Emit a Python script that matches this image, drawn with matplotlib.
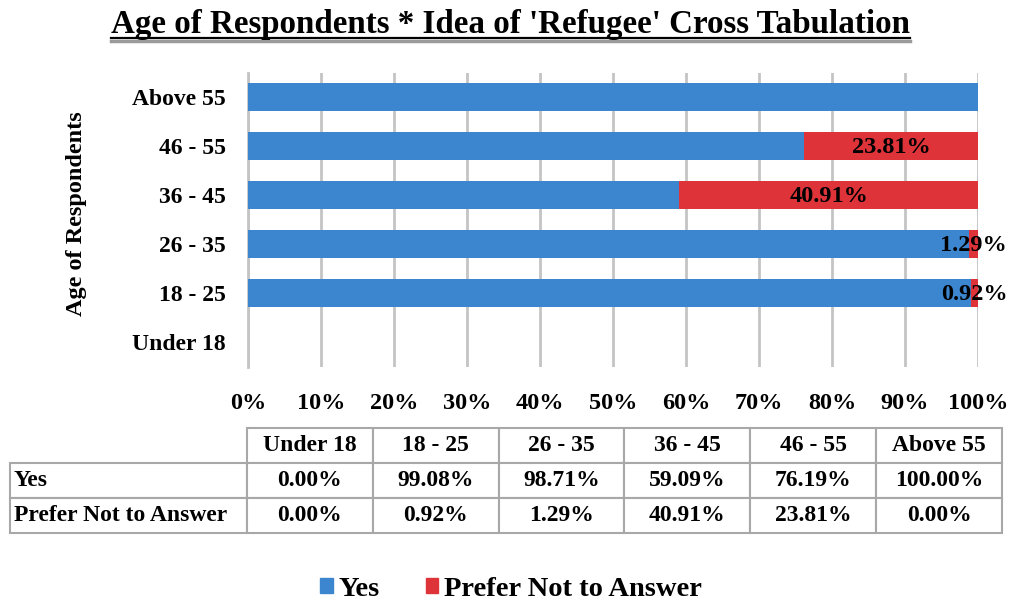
import matplotlib
matplotlib.use('Agg')
import matplotlib.pyplot as plt
import numpy as np
from matplotlib.lines import Line2D
from matplotlib.patches import Patch

ages = ['Under 18', '18 - 25', '26 - 35', '36 - 45', '46 - 55', 'Above 55']
yes = [0.00, 99.08, 98.71, 59.09, 76.19, 100.00]
prefer_not = [0.00, 0.92, 1.29, 40.91, 23.81, 0.00]
series_names = ['Yes', 'Prefer Not to Answer']
xticks = np.arange(0, 101, 10)

blue = '#3b86cf'
red = '#de3439'
grid_grey = '#c4c4c4'

plt.rcParams['font.family'] = 'Liberation Serif'
plt.rcParams['font.weight'] = 'bold'

fig = plt.figure(figsize=(10.12, 6.02), dpi=100)
W, H = 1012.0, 602.0

ax = fig.add_axes([248 / W, 1 - 366.5 / H, 730 / W, 294 / H])
y = np.arange(len(ages))
ax.barh(y, yes, height=0.58, color=blue, zorder=3)
ax.barh(y, prefer_not, left=yes, height=0.58, color=red, zorder=3)

# label the red segments with their share
for i in range(len(ages)):
    if prefer_not[i] > 0:
        cx = yes[i] + prefer_not[i] / 2
        ax.text(cx, y[i] - 0.04, '%.2f%%' % prefer_not[i], ha='center', va='center',
                fontsize=17.5, fontweight='bold', zorder=4)

ax.set_xlim(0, 100)
ax.set_ylim(-0.5, len(ages) - 0.5)
ax.set_yticks(y)
ax.set_yticklabels(ages, fontsize=17, fontweight='bold')
ax.set_xticks(xticks)
ax.set_xticklabels(['%d%%' % v for v in xticks], fontsize=17.5, fontweight='bold')
ax.tick_params(length=0, axis='both')
ax.tick_params(axis='y', pad=16)
ax.tick_params(axis='x', pad=19)
ax.xaxis.grid(True, color=grid_grey, linewidth=2, zorder=0)
for side in ['top', 'right', 'bottom']:
    ax.spines[side].set_visible(False)
ax.spines['left'].set_color(grid_grey)
ax.spines['left'].set_linewidth(2)
ax.set_ylabel('Age of Respondents', fontsize=17.5, fontweight='bold', labelpad=0)
ax.yaxis.set_label_coords(-0.22, 0.52)

# title with underline and a soft grey shadow
title = fig.text(0.504, 1 - 24 / H, "Age of Respondents * Idea of 'Refugee' Cross Tabulation",
                 ha='center', va='center', fontsize=23.8, fontweight='bold')
fig.canvas.draw()
bb = title.get_window_extent().transformed(fig.transFigure.inverted())
uy = bb.y0 + 0.002
fig.add_artist(Line2D([bb.x0, bb.x1], [uy - 0.004, uy - 0.004], color='#9a9a9a', linewidth=2.5,
                      transform=fig.transFigure))
fig.add_artist(Line2D([bb.x0, bb.x1], [uy, uy], color='black', linewidth=1.6,
                      transform=fig.transFigure))

# data table below the chart
tax = fig.add_axes([10 / W, 1 - 533 / H, 992 / W, 105 / H])
tax.axis('off')
cell_text = [[''] + ages,
             [series_names[0]] + ['%.2f%%' % v for v in yes],
             [series_names[1]] + ['%.2f%%' % v for v in prefer_not]]
col_w = [237] + [126] * len(ages)
col_w = [c / sum(col_w) for c in col_w]
tbl = tax.table(cellText=cell_text, colWidths=col_w, bbox=[0, 0, 1, 1], cellLoc='center')
tbl.auto_set_font_size(False)
for (r, c), cell in tbl.get_celld().items():
    cell.set_edgecolor('#a8a8a8')
    cell.set_linewidth(1.5)
    cell.get_text().set_fontsize(17)
    cell.get_text().set_fontweight('bold')
    if c == 0:
        cell.get_text().set_ha('left')
        cell.PAD = 0.015
    if r == 0 and c == 0:
        cell.visible_edges = ''

handles = [Patch(color=blue), Patch(color=red)]
fig.legend(handles, series_names, loc='center', bbox_to_anchor=(0.505, 1 - 589 / H), ncol=2,
           frameon=False, prop={'size': 20.5, 'weight': 'bold'}, handlelength=0.45, handleheight=0.45,
           handletextpad=0.2, columnspacing=1.6)

fig.savefig('out.png', dpi=100)
